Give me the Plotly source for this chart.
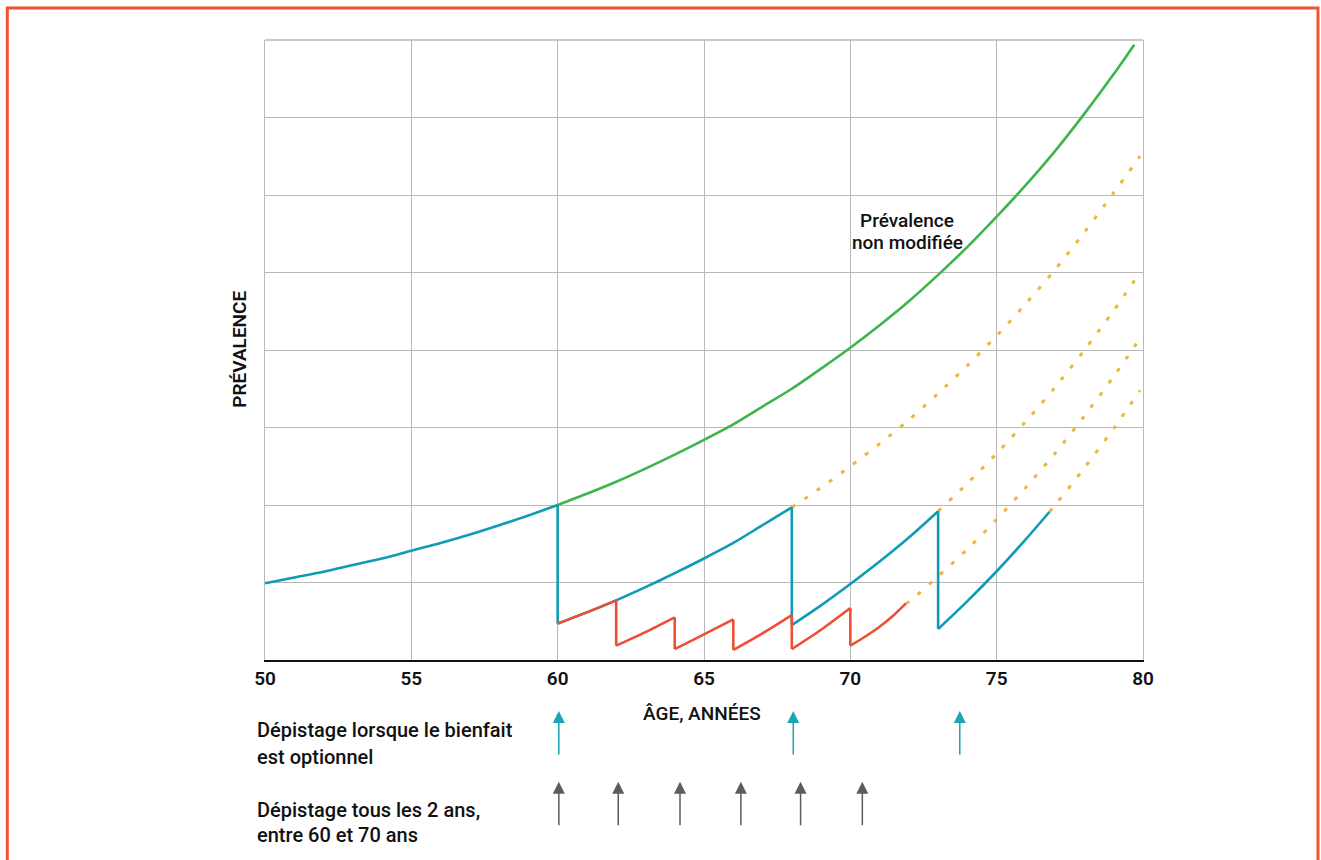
import plotly.graph_objects as go

# ---------------- data ----------------
green_ages = [60, 61, 62, 63, 64, 65, 66, 67, 68, 69, 70, 71, 72, 73, 74, 75, 76, 77, 78, 79, 79.7]
green_vals = [2.00, 2.145, 2.30, 2.47, 2.65, 2.84, 3.04, 3.27, 3.50, 3.76, 4.03, 4.32, 4.63, 4.97,
              5.33, 5.72, 6.13, 6.57, 7.05, 7.56, 7.94]

# blue: screening only when the benefit is optional (segments between screenings)
blue_pre_ages = [50, 51, 52, 53, 54, 55, 56, 57, 58, 59, 60]
blue_pre_vals = [0.99, 1.065, 1.14, 1.225, 1.31, 1.41, 1.51, 1.62, 1.74, 1.865, 2.00]
blue_s1_ages = [60, 61, 62, 63, 64, 65, 66, 67, 68]
blue_s1_vals = [0.47, 0.615, 0.77, 0.94, 1.12, 1.31, 1.51, 1.74, 1.97]
blue_s2_ages = [68, 69, 70, 71, 72, 73]
blue_s2_vals = [0.45, 0.705, 0.98, 1.27, 1.58, 1.92]
blue_s3_ages = [73, 74, 75, 76, 76.8]
blue_s3_vals = [0.40, 0.76, 1.145, 1.56, 1.91]

# red: screening every 2 years between 60 and 70
red_s1_ages = [60, 61, 62]
red_s1_vals = [0.47, 0.615, 0.77]
red_s2_ages = [62, 63, 64]
red_s2_vals = [0.185, 0.36, 0.55]
red_s3_ages = [64, 65, 66]
red_s3_vals = [0.14, 0.33, 0.525]
red_s4_ages = [66, 67, 68]
red_s4_vals = [0.13, 0.345, 0.58]
red_s5_ages = [68, 69, 70]
red_s5_vals = [0.14, 0.39, 0.67]
red_s6_ages = [70, 70.5, 71, 71.5, 71.9]
red_s6_vals = [0.185, 0.30, 0.43, 0.585, 0.73]

# dotted continuations (no further screening)
dot1_ages = [68, 69, 70, 71, 72, 73, 74, 75, 76, 77, 78, 79, 79.9]
dot1_vals = [1.97, 2.225, 2.50, 2.79, 3.10, 3.44, 3.80, 4.185, 4.60, 5.04, 5.52, 6.03, 6.50]
dot2_ages = [73, 74, 75, 76, 77, 78, 79, 79.9]
dot2_vals = [1.92, 2.28, 2.665, 3.08, 3.52, 4.00, 4.51, 5.00]
dot3_ages = [71.9, 72, 73, 74, 75, 76, 77, 78, 79, 79.9]
dot3_vals = [0.73, 0.75, 1.08, 1.43, 1.815, 2.23, 2.67, 3.15, 3.66, 4.15]
dot4_ages = [76.8, 77, 78, 79, 79.9]
dot4_vals = [1.91, 2.00, 2.48, 2.99, 3.48]

optional_screen_ages = [60.04, 68.05, 73.74]
biennial_screen_ages = [60.04, 62.07, 64.18, 66.26, 68.30, 70.41]

x_ticks = [50, 55, 60, 65, 70, 75, 80]

GREEN = "#3cb54a"
BLUE = "#0f9bb4"
RED = "#ee4f33"
GOLD = "#e8b93c"
FONT = "Roboto"
TXT = "#111111"
LW = 2.6

fig = go.Figure()


def curve(xs, ys, color, width=LW, dash=None, shape="spline"):
    fig.add_trace(go.Scatter(x=xs, y=ys, mode="lines",
                             line=dict(color=color, width=width, dash=dash,
                                       shape=shape, smoothing=0.8),
                             hoverinfo="skip", showlegend=False))


def sawtooth(segments, color):
    # smooth segments joined by vertical drops at each screening
    for i, (xs, ys) in enumerate(segments):
        if i > 0:
            pxs, pys = segments[i - 1]
            curve([pxs[-1], xs[0]], [pys[-1], ys[0]], color, shape="linear")
        curve(xs, ys, color)


for xs, ys in [(dot1_ages, dot1_vals), (dot2_ages, dot2_vals),
               (dot3_ages, dot3_vals), (dot4_ages, dot4_vals)]:
    curve(xs, ys, GOLD, width=3, dash="4px,11px")

curve(green_ages, green_vals, GREEN)
sawtooth([(blue_pre_ages, blue_pre_vals), (blue_s1_ages, blue_s1_vals),
          (blue_s2_ages, blue_s2_vals), (blue_s3_ages, blue_s3_vals)], BLUE)
sawtooth([(red_s1_ages, red_s1_vals), (red_s2_ages, red_s2_vals),
          (red_s3_ages, red_s3_vals), (red_s4_ages, red_s4_vals),
          (red_s5_ages, red_s5_vals), (red_s6_ages, red_s6_vals)], RED)

annotations = []
# screening arrows
for a in optional_screen_ages:
    annotations.append(dict(x=a, y=-0.0823, xref="x", yref="paper", text="",
                            showarrow=True, arrowhead=2, arrowsize=1.6, arrowwidth=1.5,
                            arrowcolor="#1ba3b8", ax=0, ay=45, standoff=0))
for a in biennial_screen_ages:
    annotations.append(dict(x=a, y=-0.1963, xref="x", yref="paper", text="",
                            showarrow=True, arrowhead=2, arrowsize=1.6, arrowwidth=1.5,
                            arrowcolor="#5c5c5c", ax=0, ay=45, standoff=0))


def label(text, x, y, size=20, weight=500, xanchor="left", xref="paper", yref="paper"):
    return dict(x=x, y=y, xref=xref, yref=yref, text=text, showarrow=False,
                font=dict(family=FONT, size=size, color=TXT, weight=weight),
                xanchor=xanchor, yanchor="middle")


annotations += [
    label("Prévalence", 71.95, 5.67, size=19, xanchor="center", xref="x", yref="y"),
    label("non modifiée", 71.95, 5.39, size=19, xanchor="center", xref="x", yref="y"),
    label("ÂGE, ANNÉES", 0.4972, -0.0855, size=19, xanchor="center"),
    label("Dépistage lorsque le bienfait", -0.0117, -0.1129),
    label("est optionnel", -0.0117, -0.1565),
    label("Dépistage tous les 2 ans,", -0.0117, -0.2419),
    label("entre 60 et 70 ans", -0.0117, -0.2823),
    dict(x=-0.0294, y=0.5008, xref="paper", yref="paper", text="PRÉVALENCE",
         textangle=-90, showarrow=False,
         font=dict(family=FONT, size=19, color=TXT, weight=600),
         xanchor="center", yanchor="middle"),
]

shapes = [
    dict(type="line", xref="paper", yref="paper", x0=0, x1=1, y0=1, y1=1,
         line=dict(color="#b8b8b8", width=1.3), layer="below"),
    dict(type="rect", xref="paper", yref="paper", x0=-0.2935, x1=1.1993,
         y0=-0.36, y1=1.0516, line=dict(color="#ef5332", width=3)),
]

fig.update_layout(
    width=1321, height=860,
    margin=dict(l=265, r=178, t=40, b=200),
    paper_bgcolor="white", plot_bgcolor="white",
    showlegend=False,
    annotations=annotations,
    shapes=shapes,
    xaxis=dict(range=[50, 80], tickvals=x_ticks, ticktext=[str(t) for t in x_ticks],
               showgrid=True, gridcolor="#b8b8b8", gridwidth=1.3,
               showline=True, linecolor="#111", linewidth=2, ticks="",
               zeroline=False, fixedrange=True,
               tickfont=dict(family=FONT, size=19, color=TXT, weight=600)),
    yaxis=dict(range=[0, 8], dtick=1, tick0=0, showticklabels=False,
               showgrid=True, gridcolor="#b8b8b8", gridwidth=1.3,
               showline=True, linecolor="#b8b8b8", linewidth=1.3, mirror=True,
               ticks="", zeroline=False, fixedrange=True),
)

fig.write_html(
    "out.html",
    config={"displayModeBar": False},
    post_script="document.body.style.margin='0';document.body.style.overflow='hidden';",
)
